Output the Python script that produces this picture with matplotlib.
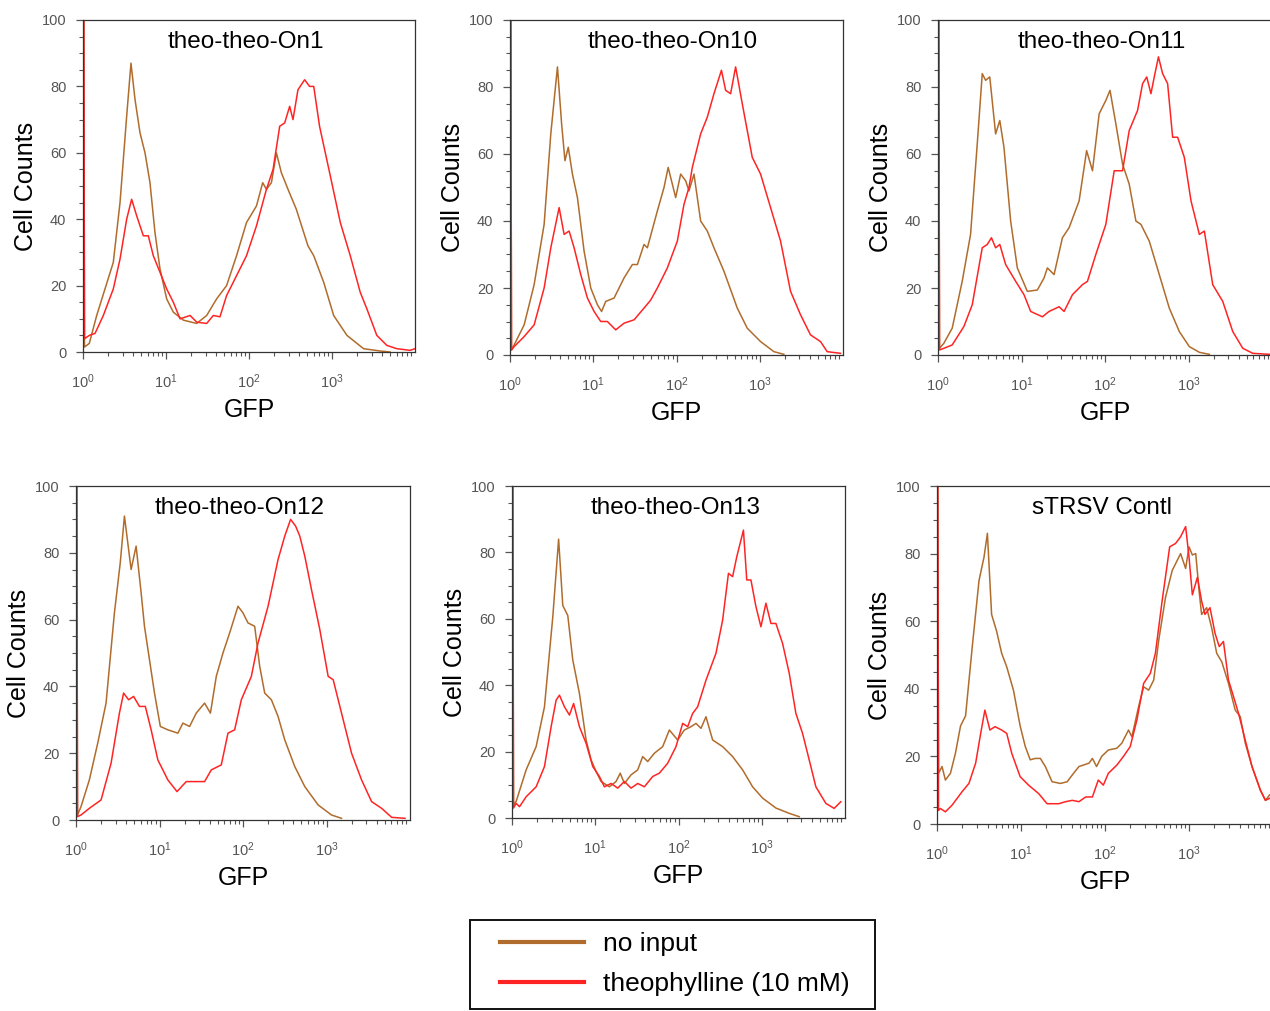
import numpy as np
import matplotlib
matplotlib.use("Agg")
import matplotlib.pyplot as plt
from matplotlib.ticker import MultipleLocator, LogLocator, NullFormatter
from matplotlib.patches import Rectangle

plt.rcParams['font.family'] = ['Liberation Sans', 'DejaVu Sans']
plt.rcParams['mathtext.fontset'] = 'custom'
plt.rcParams['mathtext.rm'] = 'Liberation Sans'
plt.rcParams['mathtext.it'] = 'Liberation Sans:italic'
plt.rcParams['mathtext.bf'] = 'Liberation Sans:bold'

## Panel titles
titles = ['theo-theo-On1', 'theo-theo-On10', 'theo-theo-On11',
          'theo-theo-On12', 'theo-theo-On13', 'sTRSV Contl']

## Histogram traces: (log10 GFP, cell counts)
on1_none = [(0.01, 100), (0.018, 1.5), (0.076, 2.6), (0.165, 11), (0.265, 19), (0.365, 27), (0.446, 45),
            (0.526, 71), (0.578, 87), (0.627, 76), (0.687, 66), (0.747, 60), (0.807, 51), (0.867, 36),
            (0.928, 25), (1.008, 16), (1.088, 12), (1.209, 9.6), (1.37, 8.6), (1.49, 11), (1.61, 16),
            (1.73, 20), (1.85, 29), (1.97, 39), (2.09, 44), (2.165, 51), (2.21, 49), (2.27, 51), (2.33, 60),
            (2.39, 54), (2.47, 49), (2.57, 43), (2.71, 32), (2.78, 29), (2.90, 21), (3.02, 11), (3.18, 5),
            (3.38, 1), (3.58, 0.3), (3.7, 0)]
on1_theo = [(0.01, 100), (0.018, 4), (0.076, 5), (0.145, 5.6), (0.245, 11), (0.365, 19), (0.446, 28),
            (0.526, 40), (0.586, 46), (0.647, 41), (0.727, 35), (0.787, 35), (0.847, 29), (0.928, 24),
            (1.008, 19), (1.088, 15), (1.169, 10), (1.29, 11), (1.37, 9), (1.49, 8.6), (1.57, 11),
            (1.65, 10.6), (1.73, 17), (1.85, 23), (1.97, 29), (2.09, 38), (2.21, 49), (2.29, 55), (2.37, 68),
            (2.43, 69), (2.49, 74), (2.53, 70), (2.59, 79), (2.67, 82), (2.73, 80), (2.78, 80), (2.85, 68),
            (2.98, 53), (3.10, 39), (3.22, 29), (3.34, 18), (3.42, 13), (3.54, 5), (3.66, 2), (3.78, 1),
            (3.94, 0.5), (4.0, 1)]

on10_none = [(0.01, 100), (0.018, 1.5), (0.05, 3), (0.17, 9), (0.29, 21), (0.41, 39), (0.49, 66), (0.57, 86),
             (0.62, 69), (0.66, 58), (0.70, 62), (0.75, 54), (0.81, 47), (0.89, 31), (0.97, 20), (1.05, 15),
             (1.10, 13), (1.15, 16), (1.25, 17), (1.37, 23), (1.47, 27), (1.53, 27), (1.61, 33), (1.65, 32),
             (1.77, 43), (1.85, 50), (1.90, 56), (1.99, 47), (2.05, 54), (2.11, 52), (2.15, 49), (2.21, 54),
             (2.29, 40), (2.37, 37), (2.45, 32), (2.57, 25), (2.73, 14), (2.85, 8), (3.01, 4), (3.17, 1),
             (3.29, 0.2)]
on10_theo = [(0.01, 100), (0.018, 1.5), (0.05, 2.5), (0.17, 5.5), (0.29, 9), (0.41, 20), (0.49, 32),
             (0.59, 44), (0.65, 36), (0.71, 37), (0.77, 32), (0.85, 24), (0.93, 17), (1.01, 13), (1.09, 10),
             (1.17, 10), (1.27, 7.5), (1.37, 9.5), (1.49, 10.5), (1.61, 14), (1.69, 16.4), (1.77, 20),
             (1.89, 26), (2.01, 34), (2.09, 45), (2.15, 50), (2.19, 56), (2.29, 66), (2.37, 71), (2.45, 78),
             (2.54, 85), (2.59, 79), (2.65, 78), (2.71, 86), (2.79, 75), (2.91, 59), (3.01, 54), (3.13, 44),
             (3.25, 34), (3.37, 19), (3.49, 12), (3.61, 6), (3.73, 4), (3.81, 1), (3.97, 0.5)]

on11_none = [(0.01, 100), (0.018, 2), (0.07, 3.5), (0.17, 8), (0.29, 22), (0.39, 36), (0.47, 63), (0.53, 84),
             (0.57, 82), (0.62, 83), (0.69, 66), (0.74, 70), (0.79, 62), (0.87, 40), (0.95, 26), (1.07, 19),
             (1.19, 19.4), (1.27, 23), (1.31, 26), (1.39, 24), (1.49, 35), (1.57, 38), (1.69, 46), (1.78, 61),
             (1.85, 55), (1.93, 72), (2.01, 76), (2.06, 79), (2.13, 69), (2.21, 57), (2.29, 51), (2.37, 40),
             (2.43, 39), (2.53, 34), (2.65, 24), (2.77, 14), (2.89, 7), (3.01, 2.5), (3.13, 0.8), (3.25, 0.2)]
on11_theo = [(0.01, 100), (0.018, 1.5), (0.07, 2), (0.17, 3), (0.31, 8.5), (0.41, 15), (0.53, 32),
             (0.59, 33), (0.64, 35), (0.69, 32), (0.74, 33), (0.81, 27), (0.93, 22), (1.03, 18), (1.11, 13),
             (1.25, 11.4), (1.33, 13), (1.45, 14.4), (1.51, 13), (1.61, 18), (1.73, 21), (1.79, 22),
             (1.89, 30), (2.01, 39), (2.11, 55), (2.21, 55), (2.29, 67), (2.39, 73), (2.45, 81), (2.50, 83),
             (2.55, 78), (2.59, 83), (2.64, 89), (2.69, 84), (2.75, 81), (2.81, 65), (2.87, 65), (2.95, 59),
             (3.03, 46), (3.13, 36), (3.19, 37), (3.29, 21), (3.41, 16), (3.53, 7), (3.65, 2), (3.77, 0.5),
             (3.97, 0.2)]

on12_none = [(0.01, 100), (0.018, 1.5), (0.06, 4), (0.16, 12), (0.26, 23), (0.36, 35), (0.46, 62), (0.53, 77),
             (0.58, 91), (0.66, 75), (0.72, 82), (0.78, 68), (0.82, 58), (0.88, 48), (0.94, 38), (1.01, 28),
             (1.10, 27), (1.22, 26), (1.28, 29), (1.36, 28), (1.44, 32), (1.54, 35), (1.61, 32), (1.68, 43),
             (1.76, 50), (1.84, 56), (1.94, 64), (2.00, 62), (2.06, 59), (2.14, 58), (2.20, 46), (2.26, 38),
             (2.34, 36), (2.42, 31), (2.50, 24), (2.62, 16), (2.74, 10), (2.90, 4.5), (3.06, 1.5), (3.18, 0.5)]
on12_theo = [(0.01, 100), (0.018, 1), (0.06, 1.5), (0.16, 3.5), (0.30, 6), (0.42, 17), (0.52, 32), (0.57, 38),
             (0.63, 36), (0.69, 37), (0.76, 34), (0.83, 34), (0.90, 27), (0.98, 18), (1.10, 12), (1.21, 8.5),
             (1.32, 11.5), (1.46, 11.5), (1.54, 11.5), (1.62, 15), (1.74, 16.5), (1.82, 26), (1.90, 27),
             (1.98, 36), (2.10, 43), (2.18, 53), (2.30, 64), (2.42, 78), (2.50, 85), (2.57, 90), (2.63, 88),
             (2.68, 85), (2.74, 79), (2.82, 69), (2.92, 57), (3.02, 43), (3.08, 42), (3.18, 32), (3.30, 20),
             (3.42, 12), (3.54, 5.5), (3.66, 3.5), (3.78, 0.8), (3.94, 0.5)]

on13_none = [(0.01, 100), (0.018, 4), (0.05, 5), (0.17, 14.5), (0.29, 21.5), (0.39, 33.5), (0.49, 60.6),
             (0.56, 84), (0.61, 64), (0.67, 61), (0.73, 47.6), (0.81, 37.5), (0.89, 23.5), (0.95, 17.5),
             (1.01, 14), (1.07, 11), (1.17, 9.4), (1.25, 11), (1.30, 13.5), (1.35, 10.4), (1.43, 13),
             (1.51, 14.5), (1.57, 18.5), (1.63, 17), (1.71, 19.5), (1.81, 21.5), (1.89, 26.5), (1.99, 23.5),
             (2.07, 26.5), (2.15, 27.5), (2.21, 28.5), (2.27, 27), (2.33, 30.5), (2.41, 23.5), (2.53, 21.5),
             (2.65, 18.5), (2.77, 14.5), (2.89, 9.4), (3.01, 6), (3.17, 3), (3.33, 1.4), (3.45, 0.4)]
on13_theo = [(0.01, 100), (0.018, 3), (0.05, 4.4), (0.09, 3.4), (0.17, 6.4), (0.29, 9.4), (0.39, 15.5),
             (0.47, 27.5), (0.53, 35.5), (0.57, 37), (0.63, 33.5), (0.69, 31), (0.74, 34.5), (0.81, 27.5),
             (0.89, 22.5), (0.97, 15.5), (1.05, 12.5), (1.11, 9.4), (1.19, 10.4), (1.27, 9), (1.35, 11),
             (1.43, 9), (1.51, 10.4), (1.59, 9.4), (1.69, 12.5), (1.77, 13.5), (1.87, 16.5), (1.97, 21.5),
             (2.05, 28.5), (2.11, 27.5), (2.17, 31.5), (2.23, 33.5), (2.33, 41.5), (2.45, 49.6), (2.53, 59.6),
             (2.60, 73.7), (2.65, 72.7), (2.70, 78.7), (2.78, 86.7), (2.82, 71.7), (2.87, 71.7), (2.93, 63.7),
             (2.99, 57.6), (3.05, 64.7), (3.11, 58.6), (3.17, 58.6), (3.25, 52.6), (3.33, 43.6), (3.41, 31.5),
             (3.49, 25.5), (3.57, 17.5), (3.65, 9.4), (3.77, 4.4), (3.87, 2.9), (3.95, 4.9)]

strsv_none = [(0.01, 100), (0.018, 15), (0.06, 17), (0.10, 13), (0.16, 15), (0.22, 21), (0.28, 29), (0.34, 32),
              (0.42, 52.5), (0.50, 72), (0.56, 79), (0.60, 86), (0.65, 62), (0.71, 57), (0.77, 50.5),
              (0.83, 46.5), (0.91, 39.6), (0.99, 29), (1.05, 23), (1.11, 19), (1.17, 19.4), (1.23, 19.4),
              (1.29, 17), (1.37, 12.5), (1.47, 12), (1.55, 12.5), (1.61, 14.5), (1.69, 17), (1.81, 18),
              (1.85, 19.4), (1.90, 17), (1.96, 20), (2.04, 21.9), (2.14, 22.4), (2.20, 23.9), (2.28, 27.8),
              (2.32, 25.8), (2.40, 34.7), (2.46, 40.6), (2.52, 39.6), (2.58, 42.6), (2.64, 54.4), (2.72, 67),
              (2.80, 75), (2.90, 80), (2.96, 75.6), (3.00, 82), (3.04, 79.6), (3.08, 80), (3.12, 69),
              (3.15, 62), (3.21, 64), (3.27, 58), (3.33, 50.5), (3.39, 48), (3.47, 41.6), (3.55, 33.7),
              (3.61, 31.8), (3.67, 23.9), (3.75, 17), (3.85, 10), (3.91, 7), (3.96, 8.6)]
strsv_theo = [(0.01, 100), (0.018, 4), (0.04, 4.6), (0.10, 3.6), (0.18, 5.6), (0.30, 9.6), (0.38, 12),
              (0.46, 18), (0.52, 26.8), (0.57, 33.7), (0.63, 27.8), (0.69, 28.8), (0.77, 27.8), (0.83, 26.8),
              (0.89, 20.9), (0.99, 14), (1.09, 11.5), (1.21, 9), (1.31, 6), (1.45, 6), (1.53, 6.6), (1.61, 7),
              (1.69, 6.6), (1.77, 8), (1.85, 8), (1.92, 13), (1.98, 11.5), (2.04, 15), (2.14, 17.4),
              (2.22, 20), (2.30, 22.9), (2.38, 30.8), (2.46, 41.6), (2.54, 44.6), (2.60, 50.5), (2.68, 66),
              (2.77, 82), (2.84, 83), (2.90, 85), (2.96, 88), (3.00, 79), (3.04, 67.8), (3.10, 73), (3.15, 66),
              (3.19, 62), (3.25, 64), (3.31, 56.4), (3.36, 52.5), (3.41, 54), (3.47, 42.6), (3.53, 37.7),
              (3.59, 32.7), (3.67, 24.8), (3.75, 17), (3.85, 10), (3.91, 7), (3.96, 7.6)]

no_input = [on1_none, on10_none, on11_none, on12_none, on13_none, strsv_none]
theophylline = [on1_theo, on10_theo, on11_theo, on12_theo, on13_theo, strsv_theo]

## Axes boxes in pixels (left, top, right, bottom) of the 1270x1011 figure
W, H = 1270, 1011
boxes = [(83, 20, 415, 352), (510, 20, 843, 355), (938, 20, 1272, 355),
         (76, 486, 410, 820), (512, 486, 845, 818), (937, 486, 1273, 824)]

BROWN = '#B06C2C'
RED = '#FF2424'
GREY = '#555555'

fig = plt.figure(figsize=(W / 100, H / 100), dpi=100)

for i in range(6):
    l, t, r, b = boxes[i]
    ax = fig.add_axes([l / W, 1 - b / H, (r - l) / W, (b - t) / H])
    d0 = np.array(no_input[i])
    d1 = np.array(theophylline[i])
    ax.plot(10 ** d0[:, 0], d0[:, 1], color=BROWN, lw=1.1, label='no input')
    ax.plot(10 ** d1[:, 0], d1[:, 1], color=RED, lw=1.1, label='theophylline (10 mM)')
    ax.set_xscale('log')
    ax.set_xlim(1, 1e4)
    ax.set_ylim(0, 100)
    ax.set_yticks([0, 20, 40, 60, 80, 100])
    ax.yaxis.set_minor_locator(MultipleLocator(5))
    ax.xaxis.set_minor_locator(LogLocator(base=10, subs=np.arange(2, 10), numticks=20))
    ax.xaxis.set_minor_formatter(NullFormatter())
    ax.set_xticks([1, 10, 100, 1000])
    ax.tick_params(axis='both', which='major', direction='out', length=5, width=0.9,
                   color=GREY, labelcolor=GREY, labelsize=10.5)
    ax.tick_params(axis='both', which='minor', direction='out', length=3, width=0.8, color=GREY)
    ax.tick_params(axis='y', which='major', pad=7)
    ax.tick_params(axis='x', which='major', pad=10)
    for s in ax.spines.values():
        s.set_color('#333333')
        s.set_linewidth(0.9)
    ax.set_xlabel('GFP', fontsize=18, labelpad=5)
    ax.set_ylabel('Cell Counts', fontsize=18, labelpad=3)
    ax.text(0.49, 0.935, titles[i], transform=ax.transAxes, ha='center', va='center', fontsize=17.5)

## Legend in a box below the panels
handles, labels = ax.get_legend_handles_labels()
leg = fig.legend(handles, labels, loc='upper left', bbox_to_anchor=(500 / W, 1 - 932 / H),
                 frameon=False, fontsize=19, borderpad=0, borderaxespad=0,
                 handlelength=3.2, handletextpad=0.7, labelspacing=0.6)
for h in leg.get_lines():
    h.set_linewidth(3)
fig.patches.append(Rectangle((470 / W, 1 - 1009 / H), 405 / W, 89 / H, transform=fig.transFigure,
                             fill=False, edgecolor='#111111', linewidth=1.4))

fig.savefig('out.png', dpi=100)
